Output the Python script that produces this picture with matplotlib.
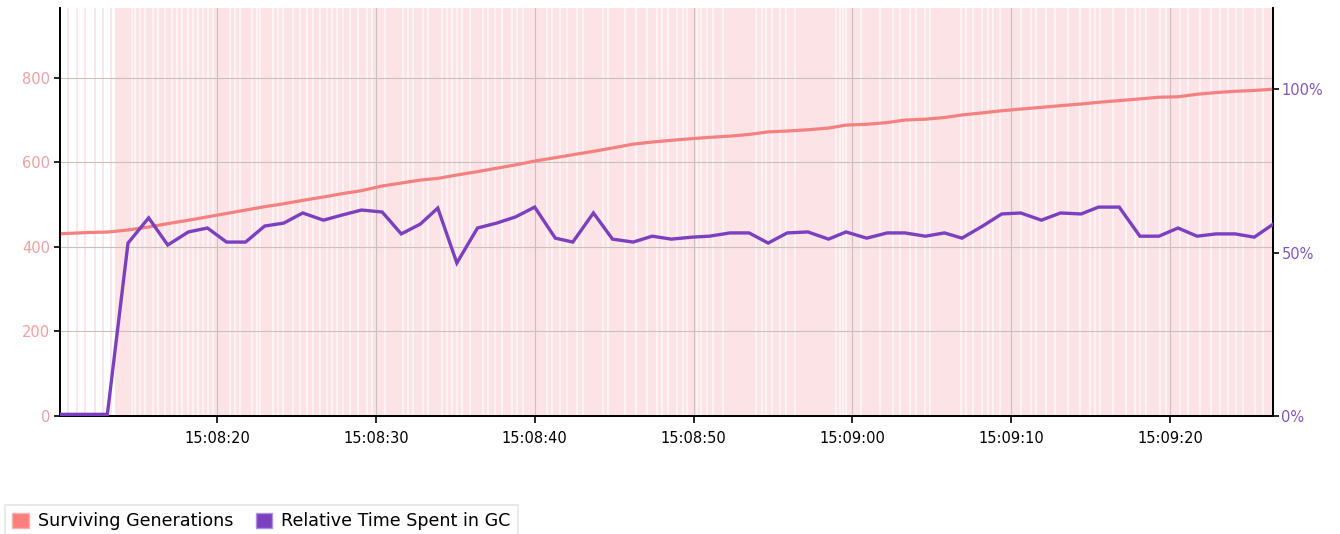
import matplotlib.pyplot as plt
from matplotlib.patches import Patch
from matplotlib.ticker import FixedLocator, FuncFormatter

# sample times, seconds after 15:08:00
times = [10.1, 10.7, 11.9, 13.1, 14.4, 15.7, 16.9, 18.2, 19.4, 20.6, 21.8, 23.0,
         24.2, 25.4, 26.7, 27.9, 29.1, 30.4, 31.6, 32.8, 33.9, 35.1, 36.4, 37.6,
         38.8, 40.0, 41.3, 42.4, 43.7, 44.9, 46.2, 47.4, 48.6, 49.9, 51.0, 52.3,
         53.5, 54.7, 55.9, 57.2, 58.5, 59.6, 60.9, 62.2, 63.3, 64.6, 65.8, 66.9,
         68.2, 69.4, 70.6, 71.9, 73.1, 74.4, 75.5, 76.8, 78.1, 79.3, 80.5, 81.7,
         82.9, 84.1, 85.3, 86.5]

surviving = [431, 432, 434, 435, 440, 447, 455, 463, 471, 479, 487, 495,
             502, 510, 518, 526, 533, 544, 551, 558, 562, 570, 578, 586,
             594, 603, 611, 618, 626, 634, 643, 648, 652, 656, 659, 662,
             666, 672, 674, 677, 681, 688, 690, 694, 700, 702, 706, 712,
             717, 722, 726, 730, 734, 738, 742, 746, 750, 754, 755, 761,
             765, 768, 770, 773]

gc_time = [0.5, 0.5, 0.5, 0.5, 52.9, 60.6, 52.3, 56.3, 57.5, 53.2, 53.2, 58.1,
           59.0, 62.1, 59.9, 61.5, 63.0, 62.4, 55.7, 58.7, 63.6, 46.8, 57.5, 59.0,
           60.9, 63.9, 54.4, 53.2, 62.1, 54.1, 53.2, 55.0, 54.1, 54.7, 55.0, 56.0,
           56.0, 52.9, 56.0, 56.3, 54.1, 56.3, 54.4, 56.0, 56.0, 55.0, 56.0, 54.4,
           58.1, 61.8, 62.1, 59.9, 62.1, 61.8, 63.9, 63.9, 55.0, 55.0, 57.5, 55.0,
           55.7, 55.7, 54.7, 58.7]

# gc activity band: pale lines before it starts, white gaps afterwards
gc_start = 13.6
early_marks = [10.6, 11.2, 11.7, 12.3, 12.8, 13.3]
gaps = [14.63, 14.84, 15.15, 15.47, 15.99, 16.31, 16.73, 17.15, 17.46, 17.78,
        18.19, 18.51, 18.82, 19.14, 19.45, 19.77, 20.82, 21.13, 21.45, 22.18,
        22.50, 22.71, 23.54, 23.86, 24.17, 24.80, 25.22, 25.64, 26.06, 26.48,
        26.90, 27.21, 27.53, 27.95, 28.37, 28.89, 29.42, 29.74, 30.57, 31.72,
        32.04, 32.35, 32.98, 33.30, 34.14, 34.45, 34.77, 35.08, 35.40, 35.92,
        36.76, 37.07, 37.50, 37.92, 38.55, 38.86, 39.28, 40.75, 41.06, 41.59,
        42.01, 42.64, 43.05, 44.31, 44.63, 45.68, 46.41, 47.04, 47.67, 47.99,
        48.40, 48.93, 49.35, 49.56, 50.19, 50.50, 50.82, 51.23, 51.86, 53.96,
        54.28, 54.59, 54.91, 55.43, 55.85, 56.38, 59.00, 59.21, 59.42, 59.63,
        60.57, 61.73, 62.56, 62.98, 63.61, 64.03, 64.56, 64.87, 66.87, 67.18,
        67.60, 68.13, 68.54, 68.86, 69.28, 70.64, 71.27, 71.59, 72.22, 72.74,
        73.58, 74.31, 74.94, 75.25, 75.57, 76.41, 77.25, 77.77, 78.09, 78.51,
        79.35, 79.77, 80.62, 81.14, 81.86, 82.60, 83.12, 83.65, 84.17, 84.59,
        85.32, 85.85]

tick_secs = [20, 30, 40, 50, 60, 70, 80]
left_ticks = [0, 200, 400, 600, 800]
right_ticks = [0, 50, 100]

pink_line = '#f4817f'
pink_text = '#f0a0a0'
purple = '#7b3fbf'
purple_text = '#8455c4'
band = '#fbe3e6'
grid_c = '#c9c0c0'

fig = plt.figure(figsize=(13.4, 5.34), dpi=100)
ax = fig.add_axes([0.0448, 0.221, 0.9052, 0.764])
ax2 = ax.twinx()

xmin, xmax = 10.12, 86.48
ax.axvspan(gc_start, xmax, color=band, lw=0, zorder=0)
for t in early_marks:
    ax.axvline(t, color=band, lw=1.2, zorder=0)
for t in gaps:
    ax.axvline(t, color='white', lw=1.1, alpha=0.75, zorder=0.5)

for v in left_ticks[1:]:
    ax.axhline(v, color=grid_c, lw=0.8, zorder=1)
for t in tick_secs:
    ax.axvline(t, color=grid_c, lw=0.8, zorder=1)

ax.plot(times, surviving, color=pink_line, lw=2.3, zorder=3)
ax2.plot(times, gc_time, color=purple, lw=2.4, zorder=3, solid_joinstyle='miter')

ax.set_xlim(xmin, xmax)
ax.set_ylim(0, 965)
ax2.set_ylim(0, 124.8)

ax.xaxis.set_major_locator(FixedLocator(tick_secs))
ax.xaxis.set_major_formatter(FuncFormatter(lambda s, p: '15:%02d:%02d' % (8 + int(s) // 60, int(s) % 60)))
ax.set_yticks(left_ticks)
ax2.set_yticks(right_ticks)
ax2.set_yticklabels(['%d%%' % v for v in right_ticks])

ax.tick_params(axis='x', length=5, width=1.2, colors='black', labelsize=10.5, pad=6)
ax.tick_params(axis='y', length=4, width=1.2, labelcolor=pink_text, labelsize=10.5, pad=3)
ax2.tick_params(axis='y', length=4, width=1.2, labelcolor=purple_text, labelsize=10.5, pad=2)

for a in (ax, ax2):
    a.spines['top'].set_visible(False)
    for s in ('left', 'right', 'bottom'):
        a.spines[s].set_linewidth(1.3)
ax2.set_zorder(ax.get_zorder() + 1)
ax2.patch.set_visible(False)

handles = [Patch(facecolor='#fd7f7d', edgecolor='#f8b0b0', label='Surviving Generations'),
           Patch(facecolor=purple, edgecolor='#b090dd', label='Relative Time Spent in GC')]
leg = fig.legend(handles=handles, loc='lower left', bbox_to_anchor=(0.004, -0.006), ncol=2,
                 frameon=True, fancybox=False, fontsize=12.6, handlelength=0.95, handleheight=0.95,
                 handletextpad=0.5, columnspacing=1.3, borderpad=0.4, borderaxespad=0)
leg.get_frame().set_edgecolor('#e4e4e4')
leg.get_frame().set_linewidth(1.5)

fig.savefig('out.png', dpi=100)
